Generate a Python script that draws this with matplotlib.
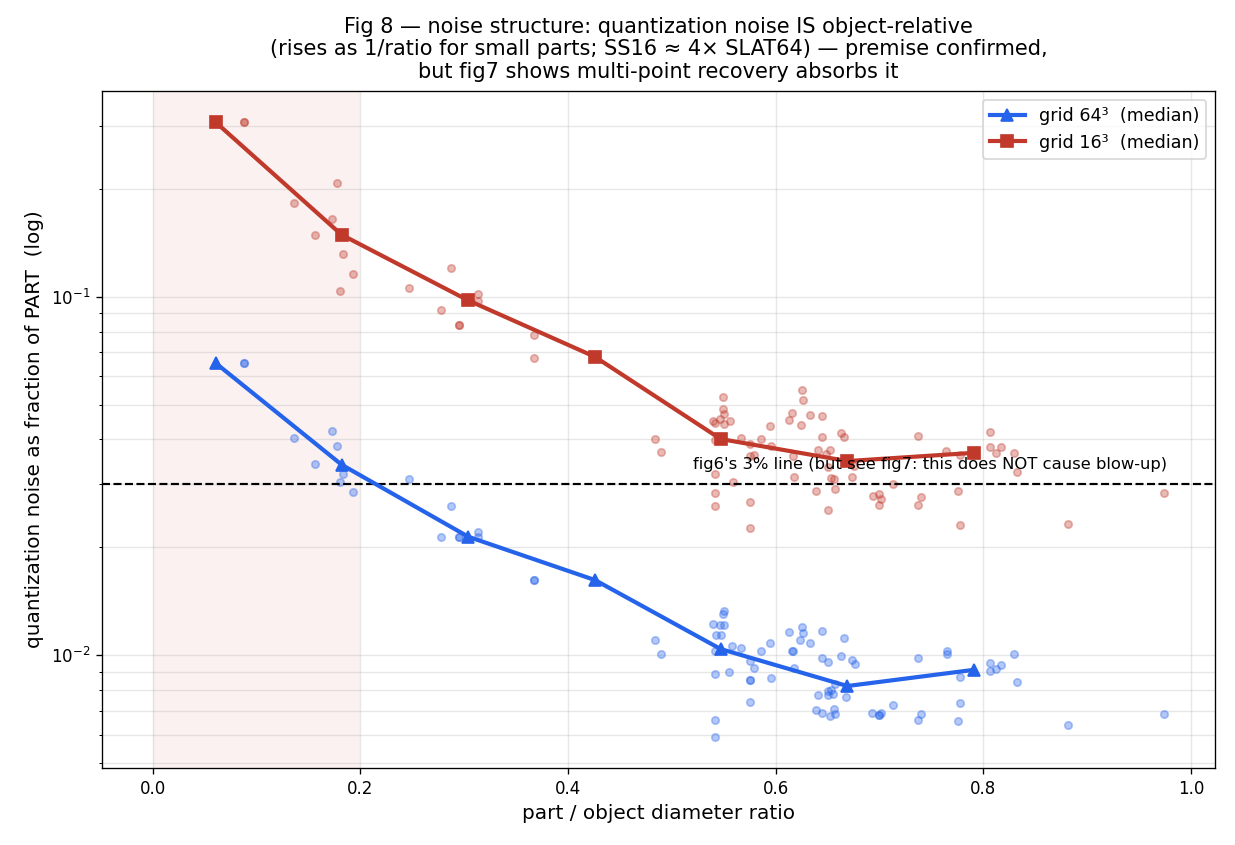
import matplotlib
matplotlib.use("Agg")
import matplotlib.pyplot as plt

ratio_64 = [0.0876, 0.0876, 0.136, 0.156, 0.1726, 0.1774, 0.180, 0.183, 0.193,
            0.2467, 0.278, 0.287, 0.2955, 0.2955, 0.313, 0.313, 0.3677, 0.3677,
            0.484, 0.490, 0.5499, 0.549, 0.5499, 0.546, 0.5393, 0.5425, 0.547,
            0.5412, 0.5582, 0.5662, 0.5749, 0.5787, 0.5553, 0.5412, 0.5749, 0.5755,
            0.5855, 0.5941, 0.5951, 0.5749, 0.5412, 0.5412,
            0.6124, 0.6249, 0.6259, 0.6237, 0.6326, 0.6442, 0.6157, 0.6163, 0.6172,
            0.6442, 0.65, 0.6654, 0.6631, 0.6731, 0.676, 0.6403, 0.65, 0.6528, 0.65,
            0.6554, 0.6567, 0.6673, 0.6384, 0.6442, 0.6557, 0.6526, 0.6571,
            0.693, 0.699, 0.699, 0.701, 0.7132, 0.737, 0.7404, 0.7375, 0.7645, 0.7645,
            0.7777, 0.7777, 0.7751, 0.8068, 0.8068, 0.812, 0.8174, 0.8299, 0.8328,
            0.881, 0.9743]
noise_64 = [0.0652, 0.0652, 0.0403, 0.0342, 0.0423, 0.0384, 0.0304, 0.032, 0.0286,
            0.031, 0.0213, 0.0261, 0.0213, 0.0213, 0.022, 0.0214, 0.0162, 0.0162,
            0.0110, 0.01005, 0.01327, 0.0130, 0.0121, 0.0121, 0.0122, 0.0114, 0.0114,
            0.0103, 0.0106, 0.0105, 0.00962, 0.00918, 0.00897, 0.00884, 0.00855, 0.00855,
            0.0103, 0.0108, 0.00861, 0.00738, 0.00658, 0.0059,
            0.0116, 0.0120, 0.0115, 0.0110, 0.0108, 0.0117, 0.0103, 0.0103, 0.00918,
            0.00979, 0.00954, 0.0112, 0.00994, 0.00968, 0.00942, 0.00772, 0.00793, 0.00798, 0.00772,
            0.00777, 0.0083, 0.00763, 0.00701, 0.00688, 0.00708, 0.00675, 0.00683,
            0.00688, 0.0068, 0.0068, 0.00688, 0.00725, 0.00979, 0.00683, 0.00658, 0.0103, 0.01005,
            0.0087, 0.00733, 0.00657, 0.00952, 0.00904, 0.00914, 0.00936, 0.0101, 0.00839,
            0.0064, 0.00683]

ratio_16 = [0.0876, 0.0876, 0.136, 0.156, 0.1726, 0.1774, 0.180, 0.183, 0.193,
            0.2467, 0.278, 0.287, 0.2955, 0.2955, 0.313, 0.313, 0.3677, 0.3677,
            0.484, 0.490, 0.549, 0.549, 0.5505, 0.5467, 0.540, 0.5419, 0.5499, 0.5556,
            0.5419, 0.5662, 0.5753, 0.5855, 0.5941, 0.5955, 0.5755, 0.5787, 0.5412,
            0.5585, 0.5412, 0.5412, 0.5749, 0.5749,
            0.6249, 0.6259, 0.6153, 0.6124, 0.624, 0.6326, 0.6442, 0.6442, 0.6631,
            0.6654, 0.6407, 0.6523, 0.6484, 0.6163, 0.65, 0.6757, 0.6172, 0.6528,
            0.6557, 0.6731, 0.6384, 0.6567, 0.65,
            0.6933, 0.699, 0.701, 0.6997, 0.7132, 0.737, 0.7404, 0.7375, 0.7642,
            0.7777, 0.7751, 0.7777, 0.8068, 0.8065, 0.812, 0.8174, 0.8299, 0.8328,
            0.881, 0.9743]
noise_16 = [0.308, 0.308, 0.183, 0.149, 0.165, 0.208, 0.1038, 0.1315, 0.1156,
            0.1057, 0.0918, 0.120, 0.0835, 0.0835, 0.102, 0.0975, 0.078, 0.0674,
            0.0400, 0.0369, 0.0525, 0.0486, 0.0471, 0.0455, 0.0451, 0.0444, 0.0442, 0.0451,
            0.0399, 0.0403, 0.0389, 0.0400, 0.0436, 0.0384, 0.0360, 0.0363, 0.0320,
            0.0304, 0.0283, 0.0261, 0.0267, 0.0226,
            0.0549, 0.0515, 0.0473, 0.0452, 0.0439, 0.0468, 0.0464, 0.0406, 0.0417,
            0.0406, 0.0374, 0.0374, 0.0364, 0.0359, 0.0336, 0.0337, 0.0314, 0.0312,
            0.0310, 0.0314, 0.0287, 0.0291, 0.0254,
            0.0278, 0.0282, 0.0272, 0.0262, 0.0300, 0.0409, 0.0276, 0.0262, 0.0371,
            0.0362, 0.0287, 0.0231, 0.0420, 0.0380, 0.0367, 0.0380, 0.0367, 0.0324,
            0.0233, 0.0283]

# binned medians
bin_centers = [0.0608, 0.182, 0.304, 0.426, 0.547, 0.669, 0.791]
median_64 = [0.0653, 0.0340, 0.0214, 0.0162, 0.0104, 0.0082, 0.0091]
median_16 = [0.307, 0.149, 0.0977, 0.0680, 0.0401, 0.0348, 0.0367]

BLUE = '#2563eb'
RED = '#c0392b'

fig = plt.figure(figsize=(1235 / 120, 845 / 120), dpi=120)
ax = fig.add_subplot(111)
fig.subplots_adjust(left=0.0826, right=0.9838, bottom=0.0911, top=0.8923)

ax.axvspan(0, 0.2, color=RED, alpha=0.07, lw=0)
ax.scatter(ratio_64, noise_64, s=20, color=BLUE, alpha=0.35, zorder=2)
ax.scatter(ratio_16, noise_16, s=20, color=RED, alpha=0.35, zorder=2)
ax.plot(bin_centers, median_64, '-^', color=BLUE, lw=2.5, ms=7,
        label='grid 64³  (median)', zorder=3)
ax.plot(bin_centers, median_16, '-s', color=RED, lw=2.5, ms=7,
        label='grid 16³  (median)', zorder=3)

ax.axhline(0.03, color='k', ls='--', lw=1.3)
ax.text(0.52, 0.033, "fig6's 3% line (but see fig7: this does NOT cause blow-up)",
        fontsize=9.8)

ax.set_yscale('log')
ax.grid(True, which='both', alpha=0.3)
ax.set_xlabel('part / object diameter ratio', fontsize=12)
ax.set_ylabel('quantization noise as fraction of PART  (log)', fontsize=12)
ax.set_title('Fig 8 — noise structure: quantization noise IS object-relative\n'
             '(rises as 1/ratio for small parts; SS16 ≈ 4× SLAT64) — premise confirmed,\n'
             'but fig7 shows multi-point recovery absorbs it',
             fontsize=12.5, linespacing=1.15, pad=8)
ax.legend(loc='upper right', fontsize=10.5)

fig.savefig('out.png', dpi=120)
